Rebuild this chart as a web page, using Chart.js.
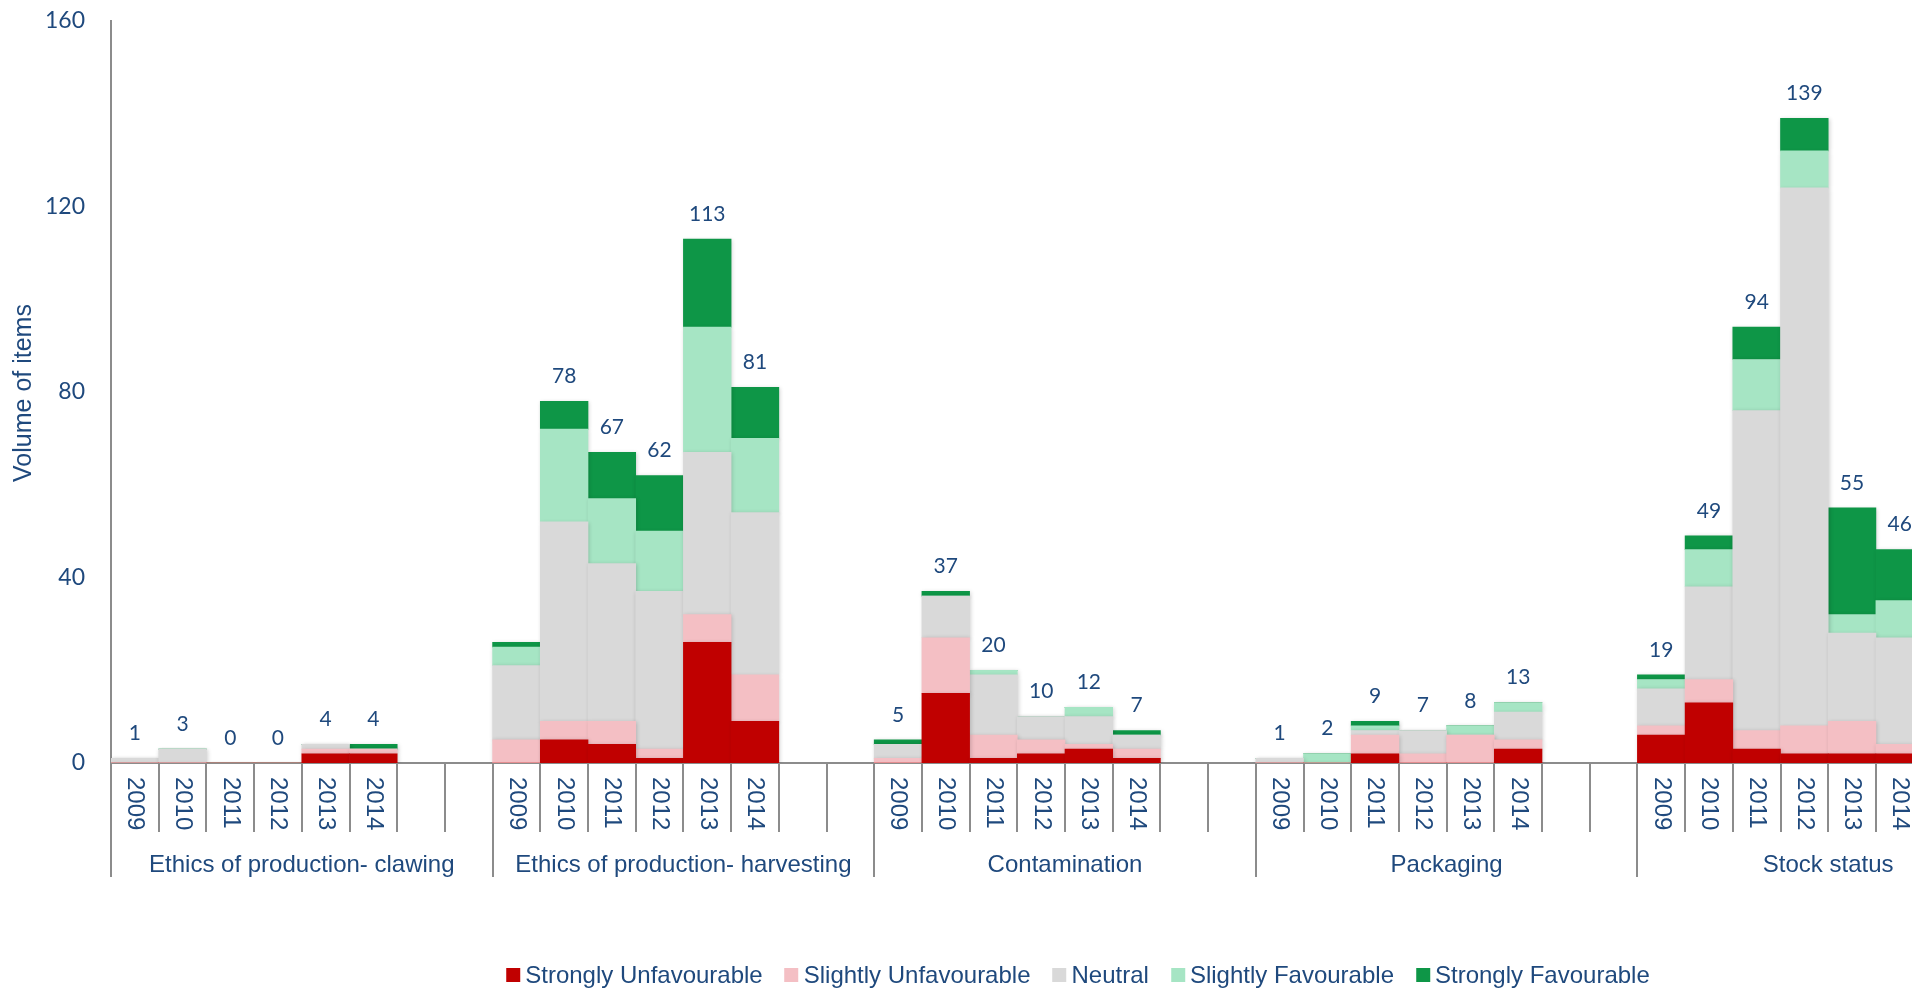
<!DOCTYPE html>
<html>
<head>
<meta charset="utf-8">
<title>Volume of items by topic and tone, 2009–2014</title>
<script src="https://cdn.jsdelivr.net/npm/chart.js@4/dist/chart.umd.min.js"></script>
<style>
  html, body { margin: 0; padding: 0; background: #ffffff; overflow: hidden; width: 1912px; height: 988px; }
  #wrap { position: relative; width: 2040px; height: 988px; }
  #legend {
    position: absolute; top: 961px; left: 1078px; transform: translateX(-50%);
    display: flex; white-space: nowrap; line-height: 28px;
    font: 24px "Liberation Sans", Arial, sans-serif; color: #1F497D;
  }
  .item { display: flex; align-items: center; margin: 0 11px; }
  .sw { width: 14px; height: 14px; margin-right: 5px; flex: none; }
</style>
</head>
<body>
<div id="wrap">
  <canvas id="c" width="2040" height="988"></canvas>
  <div id="legend"></div>
</div>
<script>
// Topic groups and the years shown inside each group
const groups = [
  'Ethics of production- clawing',
  'Ethics of production- harvesting',
  'Contamination',
  'Packaging',
  'Stock status'
];
const years = ['2009', '2010', '2011', '2012', '2013', '2014'];

// Item counts per tone, listed group by group (6 years each)
const stronglyUnfavourable = [
  0, 0, 0, 0, 2, 2,
  0, 5, 4, 1, 26, 9,
  0, 15, 1, 2, 3, 1,
  0, 0, 2, 0, 0, 3,
  6, 13, 3, 2, 2, 2
];
const slightlyUnfavourable = [
  0, 0, 0, 0, 1, 1,
  5, 4, 5, 2, 6, 10,
  1, 12, 5, 3, 1, 2,
  0, 0, 4, 2, 6, 2,
  2, 5, 4, 6, 7, 2
];
const neutral = [
  1, 3, 0, 0, 1, 0,
  16, 43, 34, 34, 35, 35,
  3, 9, 13, 5, 6, 3,
  1, 0, 1, 5, 0, 6,
  8, 20, 69, 116, 19, 23
];
const slightlyFavourable = [
  0, 0, 0, 0, 0, 0,
  4, 20, 14, 13, 27, 16,
  0, 0, 1, 0, 2, 0,
  0, 2, 1, 0, 2, 2,
  2, 8, 11, 8, 4, 8
];
const stronglyFavourable = [
  0, 0, 0, 0, 0, 1,
  1, 6, 10, 12, 19, 11,
  1, 1, 0, 0, 0, 1,
  0, 0, 1, 0, 0, 0,
  1, 3, 7, 7, 23, 11
];

// Bars whose total is left without a label: [group index, year index]
const unlabelledTotals = [[1, 0]];

// Y axis ticks
const yTicks = [0, 40, 80, 120, 160];

const seriesNames = ['Strongly Unfavourable', 'Slightly Unfavourable', 'Neutral', 'Slightly Favourable', 'Strongly Favourable'];
const seriesColors = ['#C00000', '#F4BFC4', '#D9D9D9', '#A6E5C4', '#0E9647'];
const seriesValues = [stronglyUnfavourable, slightlyUnfavourable, neutral, slightlyFavourable, stronglyFavourable];

const TEXT = '#1F497D';
const AXIS = '#8C8C8C';
const EMPTY_SLOTS = 2; // blank slots after each group's years

// Expand the per-group values into axis slots (years followed by blank slots)
const slotLabels = [];
const slotGroup = [];
const slotYear = [];
groups.forEach((g, gi) => {
  years.forEach((yr, yi) => { slotLabels.push(yr); slotGroup.push(gi); slotYear.push(yi); });
  for (let k = 0; k < EMPTY_SLOTS; k++) { slotLabels.push(''); slotGroup.push(gi); slotYear.push(-1); }
});
function toSlots(values) {
  return slotLabels.map((_, i) => slotYear[i] < 0 ? null : values[slotGroup[i] * years.length + slotYear[i]]);
}

const datasets = seriesNames.map((name, i) => ({
  label: name,
  data: toSlots(seriesValues[i]),
  backgroundColor: seriesColors[i],
  borderWidth: 0,
  barPercentage: 1,
  categoryPercentage: 1
}));

// Soft shadow under the bar stacks
const barShadow = {
  id: 'barShadow',
  beforeDatasetsDraw(chart) {
    const ctx = chart.ctx;
    ctx.save();
    ctx.shadowColor = 'rgba(0,0,0,0.18)';
    ctx.shadowBlur = 4;
    ctx.shadowOffsetX = 1;
    ctx.shadowOffsetY = 1;
  },
  afterDatasetsDraw(chart) { chart.ctx.restore(); }
};

// Multi-level category axis, totals above the stacks and the y axis title
const decorations = {
  id: 'decorations',
  afterDraw(chart) {
    const ctx = chart.ctx;
    const xs = chart.scales.x, ys = chart.scales.y;
    const base = ys.getPixelForValue(0);
    const slotW = xs.getPixelForValue(1) - xs.getPixelForValue(0);
    const n = slotLabels.length;
    const perGroup = years.length + EMPTY_SLOTS;

    // slot boundaries
    ctx.save();
    ctx.strokeStyle = AXIS;
    ctx.lineWidth = 2;
    for (let i = 0; i <= n; i++) {
      const bx = Math.round(xs.getPixelForValue(Math.min(i, n - 1)) + (i === n ? slotW / 2 : -slotW / 2));
      const isGroupEdge = i % perGroup === 0;
      ctx.beginPath();
      ctx.moveTo(bx, base);
      ctx.lineTo(bx, isGroupEdge ? 877 : 832);
      ctx.stroke();
    }
    ctx.restore();

    // year labels, turned to read downwards
    ctx.save();
    ctx.fillStyle = TEXT;
    ctx.font = '24px "Liberation Sans", Arial, sans-serif';
    ctx.textAlign = 'left';
    ctx.textBaseline = 'middle';
    slotLabels.forEach((lab, i) => {
      if (!lab) return;
      ctx.save();
      ctx.translate(xs.getPixelForValue(i), 777);
      ctx.rotate(Math.PI / 2);
      ctx.fillText(lab, 0, 0);
      ctx.restore();
    });
    ctx.restore();

    // group labels
    ctx.save();
    ctx.fillStyle = TEXT;
    ctx.font = '24px "Liberation Sans", Arial, sans-serif';
    ctx.textAlign = 'center';
    ctx.textBaseline = 'alphabetic';
    groups.forEach((g, gi) => {
      const first = gi * perGroup, last = first + perGroup - 1;
      const cx = (xs.getPixelForValue(first) + xs.getPixelForValue(last)) / 2;
      ctx.fillText(g, cx, 872);
    });
    ctx.restore();

    // stack totals
    ctx.save();
    ctx.fillStyle = TEXT;
    ctx.font = '21px Lato, "Open Sans", sans-serif';
    ctx.textAlign = 'center';
    ctx.textBaseline = 'middle';
    slotLabels.forEach((lab, i) => {
      if (slotYear[i] < 0) return;
      if (unlabelledTotals.some(([g, y]) => g === slotGroup[i] && y === slotYear[i])) return;
      const total = datasets.reduce((s, d) => s + (d.data[i] || 0), 0);
      ctx.fillText(String(total), xs.getPixelForValue(i), ys.getPixelForValue(total) - 25);
    });
    ctx.restore();

    // y axis title
    ctx.save();
    ctx.fillStyle = TEXT;
    ctx.font = '25px "Liberation Sans", Arial, sans-serif';
    ctx.textAlign = 'center';
    ctx.textBaseline = 'middle';
    ctx.translate(24, 393);
    ctx.rotate(-Math.PI / 2);
    ctx.fillText('Volume of items', 0, 0);
    ctx.restore();
  }
};

new Chart(document.getElementById('c'), {
  type: 'bar',
  data: { labels: slotLabels, datasets },
  options: {
    responsive: false,
    animation: false,
    devicePixelRatio: 1,
    layout: { padding: { top: 21, right: 21, bottom: 0, left: 0 } },
    plugins: { legend: { display: false }, tooltip: { enabled: false } },
    scales: {
      x: {
        stacked: true,
        ticks: { display: false },
        grid: { display: false, drawTicks: false },
        border: { display: true, color: AXIS, width: 2 },
        afterFit(s) { s.height = 225; }
      },
      y: {
        stacked: true,
        min: yTicks[0],
        max: yTicks[yTicks.length - 1],
        afterBuildTicks(s) { s.ticks = yTicks.map(v => ({ value: v })); },
        ticks: { padding: 26, color: TEXT, font: { family: 'Lato', size: 23 } },
        grid: { display: false, drawTicks: false },
        border: { display: true, color: AXIS, width: 2 },
        afterFit(s) { s.width = 111; s.paddingTop = 0; s.paddingBottom = 0; }
      }
    }
  },
  plugins: [barShadow, decorations]
});

// Legend built from the series names and colours
const legend = document.getElementById('legend');
seriesNames.forEach((name, i) => {
  const item = document.createElement('div');
  item.className = 'item';
  const sw = document.createElement('span');
  sw.className = 'sw';
  sw.style.background = seriesColors[i];
  const tx = document.createElement('span');
  tx.textContent = name;
  item.appendChild(sw);
  item.appendChild(tx);
  legend.appendChild(item);
});
</script>
</body>
</html>
